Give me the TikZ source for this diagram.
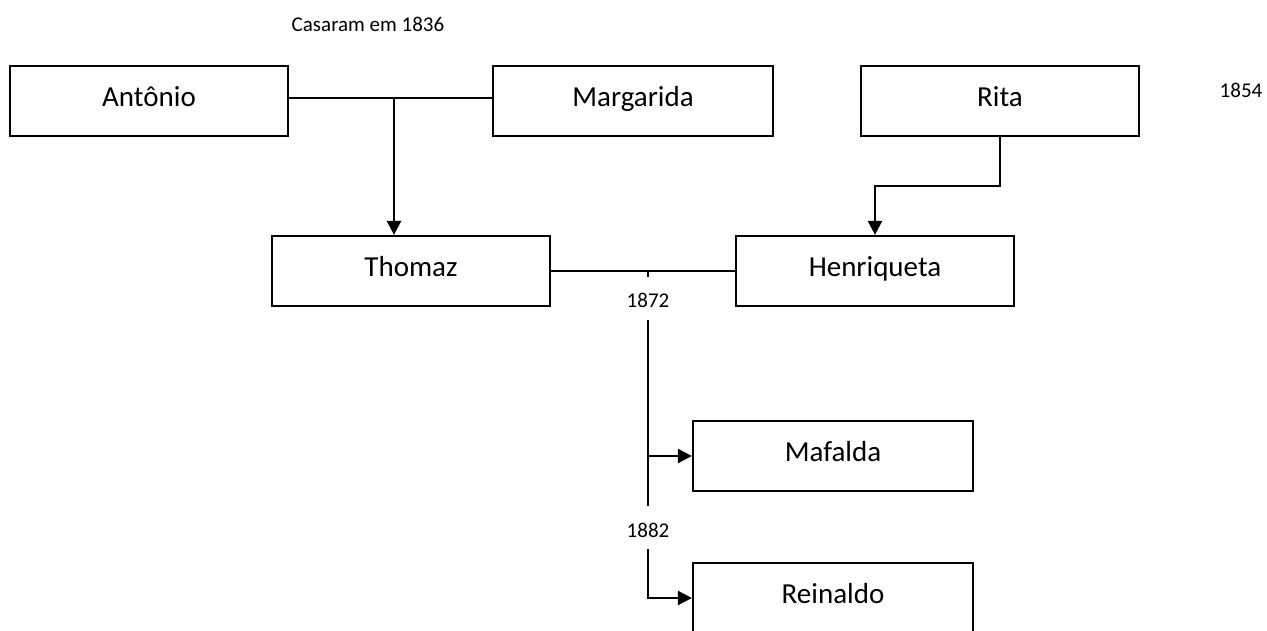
\documentclass[tikz,border=0pt]{standalone}
\usepackage{fontspec}
\setmainfont{Carlito}
\usetikzlibrary{arrows.meta}
\begin{document}
\begin{tikzpicture}[x=1pt,y=-1pt,
  person/.style={draw, line width=2.2pt, minimum width=278pt, minimum height=70pt,
    inner sep=0pt, text height=18pt, text depth=8pt,
    font=\fontsize{29}{33}\selectfont},
  note/.style={inner sep=0pt, font=\fontsize{21}{25}\selectfont},
  link/.style={line width=2.4pt},
  child/.style={line width=2.4pt, -{Triangle[length=14pt,width=14pt]}}]
  \useasboundingbox (0,0) rectangle (1267,630);
  \clip (0,0) rectangle (1267,630);

  % first generation
  \node[person] (antonio)   at (149,101) {Antônio};
  \node[person, minimum width=280pt] (margarida) at (633,101) {Margarida};
  \node[person] (rita)      at (1000,101) {Rita};
  \node[note] (casaram) at (368,24) {Casaram em 1836};
  \node[note] (y1854) at (1241,90) {1854};

  % second generation
  \node[person] (thomaz)     at (411,271) {Thomaz};
  \node[person] (henriqueta) at (875,271) {Henriqueta};

  % children
  \node[person, minimum width=280pt] (mafalda)  at (833,456) {Mafalda};
  \node[person, minimum width=280pt] (reinaldo) at (833,598) {Reinaldo};

  % marriage of Antônio and Margarida
  \coordinate (j1) at (394,98);
  \draw[link] (antonio.east |- j1) -- (margarida.west |- j1);
  \draw[child] (j1) -- (j1 |- thomaz.north);

  % Rita to Henriqueta
  \coordinate (r1) at (875,186);
  \draw[child] (rita.south) |- (r1) -- (henriqueta.north);

  % marriage of Thomaz and Henriqueta
  \coordinate (j2) at (648,271);
  \draw[link] (thomaz.east) -- (henriqueta.west);
  \draw[link] (j2) -- ++(0,6);
  \node[note] (y1872) at (648,300) {1872};

  % descendants line
  \coordinate (v1) at (648,320);
  \coordinate (v2) at (648,506);
  \draw[link] (v1) -- (v2);
  \coordinate (b1) at (648,456);
  \draw[child] (b1) -- (mafalda.west);
  \node[note] (y1882) at (648,530) {1882};
  \coordinate (v3) at (648,549);
  \draw[child] (v3) |- (reinaldo.west);
\end{tikzpicture}
\end{document}
